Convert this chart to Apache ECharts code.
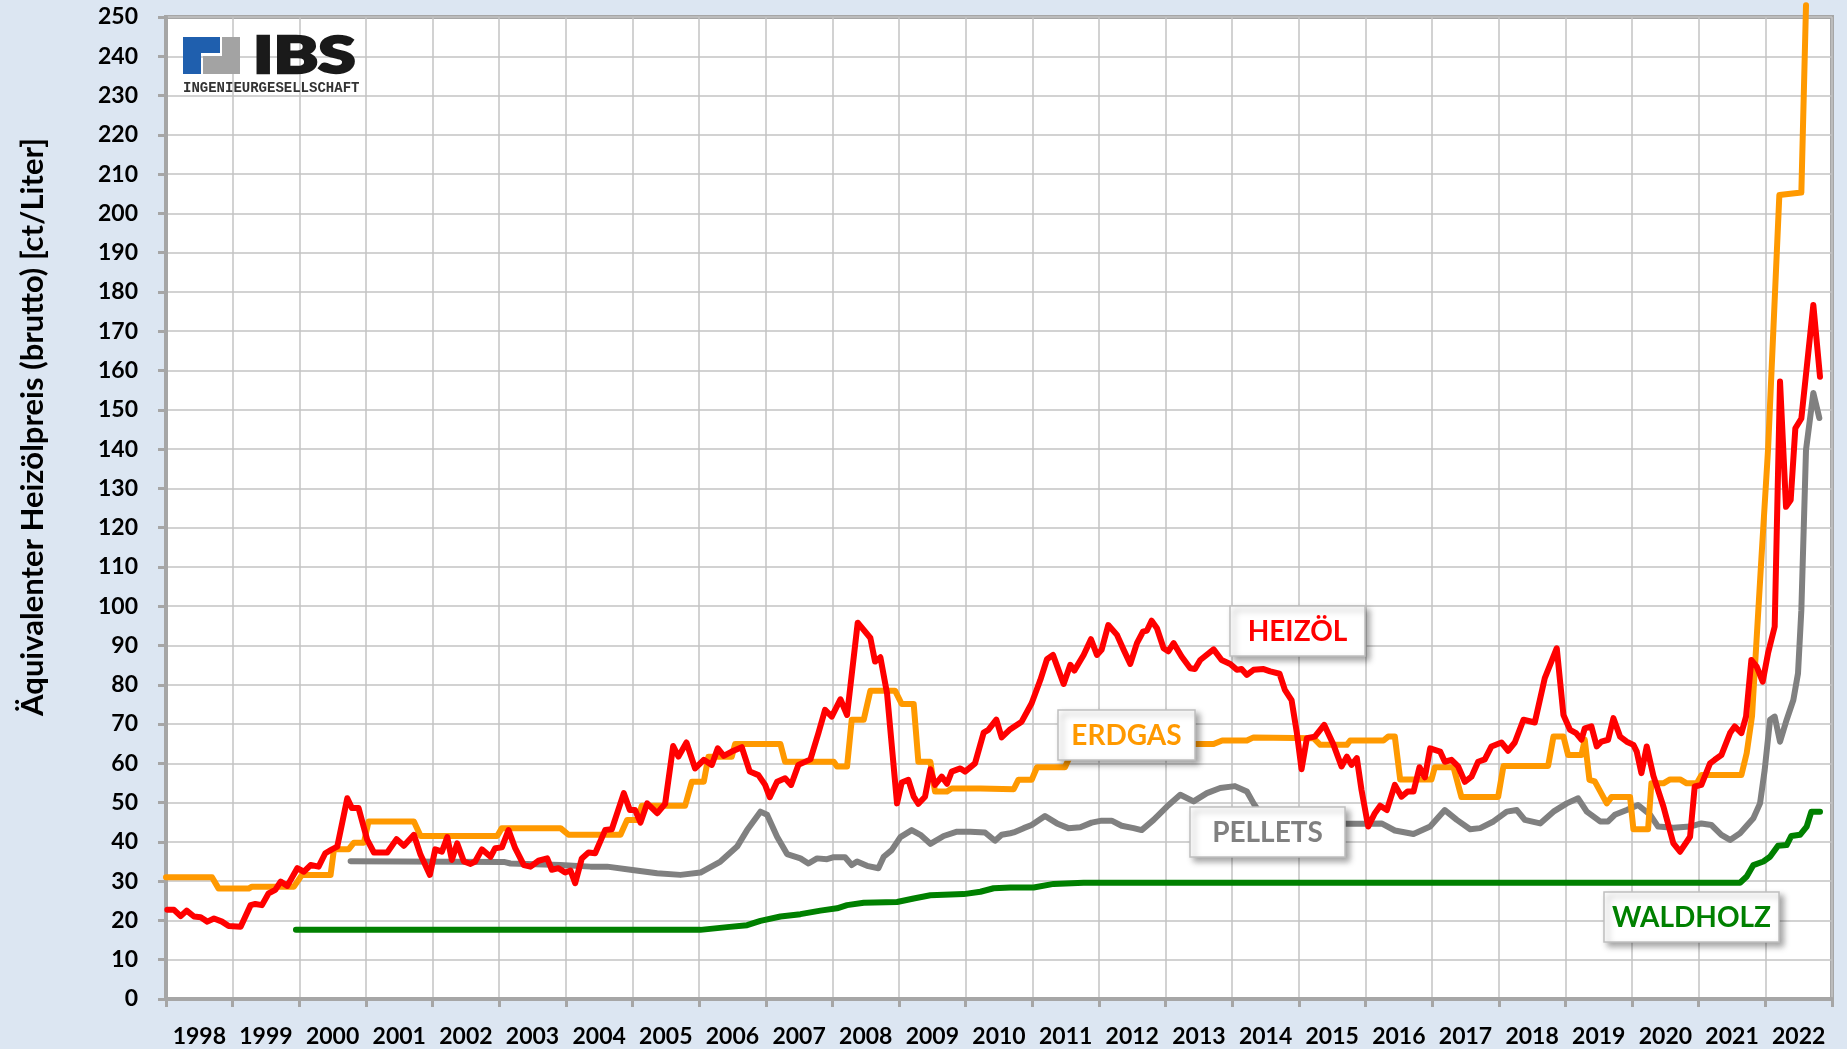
<!DOCTYPE html>
<html><head><meta charset="utf-8">
<script src="https://cdn.jsdelivr.net/npm/echarts/dist/echarts.min.js"></script>
<style>html,body{margin:0;padding:0;background:#dce6f2;}#c{width:1847px;height:1049px;}</style>
</head><body><div id="c"></div>
<script>
// ---- tick labels ----
const yearLabels = ['1998','1999','2000','2001','2002','2003','2004','2005','2006','2007','2008','2009','2010','2011','2012','2013','2014','2015','2016','2017','2018','2019','2020','2021','2022'];
const yAxisTitle = 'Äquivalenter Heizölpreis (brutto) [ct/Liter]';
const seriesNames = ['HEIZÖL','ERDGAS','PELLETS','WALDHOLZ'];

// ---- series values: [year, ct/Liter] ----
const heizoel = [[1998.02,22.7],[1998.12,22.7],[1998.22,21.1],[1998.31,22.5],[1998.42,21.0],[1998.52,20.8],[1998.62,19.7],[1998.72,20.5],[1998.84,19.7],[1998.94,18.6],[1999.12,18.4],[1999.27,23.9],[1999.34,24.2],[1999.44,23.9],[1999.54,26.9],[1999.64,27.8],[1999.72,29.9],[1999.82,28.8],[1999.97,33.3],[2000.07,32.4],[2000.17,34.1],[2000.29,33.7],[2000.39,37.1],[2000.49,38.1],[2000.57,38.8],[2000.72,51.1],[2000.79,48.6],[2000.89,48.6],[2001.02,40.5],[2001.12,37.3],[2001.32,37.3],[2001.46,40.7],[2001.57,39.0],[2001.72,41.8],[2001.82,36.7],[2001.96,31.6],[2002.04,38.1],[2002.14,37.5],[2002.22,41.2],[2002.29,35.4],[2002.37,39.6],[2002.47,35.0],[2002.57,34.4],[2002.64,35.0],[2002.74,38.1],[2002.87,36.2],[2002.94,38.4],[2003.04,38.6],[2003.14,43.0],[2003.24,38.4],[2003.37,34.1],[2003.47,33.7],[2003.59,35.2],[2003.72,35.8],[2003.79,32.9],[2003.89,33.3],[2003.99,32.2],[2004.07,32.7],[2004.14,29.5],[2004.24,35.8],[2004.34,37.3],[2004.44,37.1],[2004.59,43.0],[2004.69,43.2],[2004.87,52.4],[2004.96,48.1],[2005.04,48.1],[2005.12,44.9],[2005.22,49.8],[2005.37,47.3],[2005.49,49.7],[2005.61,64.4],[2005.69,61.7],[2005.81,65.3],[2005.94,58.7],[2006.07,60.9],[2006.19,59.6],[2006.28,63.8],[2006.37,61.9],[2006.49,63.0],[2006.64,64.1],[2006.76,57.9],[2006.89,57.0],[2006.99,54.5],[2007.06,51.4],[2007.17,55.3],[2007.29,56.2],[2007.38,54.5],[2007.49,59.6],[2007.67,61.0],[2007.79,67.7],[2007.89,73.6],[2007.99,71.9],[2008.12,76.3],[2008.22,72.3],[2008.38,95.8],[2008.57,91.9],[2008.64,85.9],[2008.72,87.0],[2008.82,77.8],[2008.97,49.8],[2009.04,55.1],[2009.14,55.8],[2009.22,51.5],[2009.29,49.7],[2009.39,51.5],[2009.47,58.5],[2009.54,54.5],[2009.64,56.6],[2009.72,54.8],[2009.79,57.9],[2009.92,58.7],[2009.99,57.9],[2010.14,60.0],[2010.27,67.8],[2010.34,68.5],[2010.46,71.1],[2010.54,66.6],[2010.67,68.7],[2010.84,70.6],[2010.99,75.3],[2011.12,81.2],[2011.22,86.5],[2011.31,87.6],[2011.47,80.2],[2011.57,85.1],[2011.63,83.6],[2011.77,87.6],[2011.88,91.6],[2011.97,87.6],[2012.04,88.9],[2012.14,95.2],[2012.27,92.7],[2012.37,88.9],[2012.47,85.3],[2012.57,90.6],[2012.66,93.5],[2012.72,93.8],[2012.79,96.3],[2012.87,94.4],[2012.97,89.3],[2013.04,88.5],[2013.12,90.6],[2013.24,87.2],[2013.37,84.2],[2013.44,84.0],[2013.52,86.3],[2013.72,89.0],[2013.84,86.3],[2013.97,85.3],[2014.07,83.8],[2014.14,84.0],[2014.22,82.5],[2014.32,83.8],[2014.47,84.0],[2014.57,83.4],[2014.71,82.8],[2014.79,78.7],[2014.89,76.1],[2014.97,67.7],[2015.04,58.5],[2015.12,66.4],[2015.24,66.8],[2015.38,69.8],[2015.52,64.7],[2015.64,59.2],[2015.72,61.7],[2015.79,59.6],[2015.87,61.3],[2015.94,53.2],[2016.04,43.9],[2016.14,47.3],[2016.22,49.2],[2016.32,48.1],[2016.44,54.5],[2016.54,51.5],[2016.63,52.8],[2016.72,52.8],[2016.81,59.0],[2016.89,56.4],[2016.97,63.8],[2017.12,63.0],[2017.19,60.4],[2017.29,60.9],[2017.39,59.2],[2017.49,55.3],[2017.59,56.6],[2017.69,60.4],[2017.79,61.0],[2017.89,64.3],[2018.04,65.3],[2018.14,63.2],[2018.24,65.3],[2018.37,71.1],[2018.54,70.4],[2018.69,81.7],[2018.87,89.3],[2018.97,72.3],[2019.07,68.5],[2019.16,67.7],[2019.24,66.0],[2019.29,68.9],[2019.39,69.4],[2019.47,64.3],[2019.54,65.5],[2019.64,66.0],[2019.72,71.5],[2019.82,66.8],[2019.92,65.5],[2020.02,64.7],[2020.07,63.0],[2020.14,57.5],[2020.22,64.3],[2020.32,56.8],[2020.47,49.0],[2020.62,39.6],[2020.72,37.5],[2020.87,41.3],[2020.94,54.1],[2021.04,54.5],[2021.17,60.0],[2021.24,60.9],[2021.34,62.1],[2021.47,67.7],[2021.54,69.4],[2021.64,67.7],[2021.71,71.9],[2021.79,86.3],[2021.87,84.6],[2021.96,80.8],[2022.04,88.0],[2022.14,94.8],[2022.22,157.2],[2022.31,125.3],[2022.38,127.0],[2022.45,145.3],[2022.54,147.8],[2022.72,176.7],[2022.82,158.4]];

const erdgas = [[1998.0,31.0],[1998.69,31.0],[1998.79,28.1],[1999.24,28.1],[1999.29,28.6],[1999.92,28.6],[2000.04,31.6],[2000.47,31.6],[2000.52,38.1],[2000.74,38.1],[2000.82,39.8],[2000.97,39.8],[2001.04,45.2],[2001.72,45.2],[2001.82,41.5],[2002.97,41.5],[2003.04,43.5],[2003.92,43.5],[2004.04,41.8],[2004.82,41.8],[2004.92,45.6],[2005.07,45.6],[2005.14,49.2],[2005.79,49.2],[2005.89,55.3],[2006.07,55.3],[2006.14,61.7],[2006.49,61.7],[2006.54,64.9],[2007.22,64.9],[2007.29,60.4],[2008.02,60.4],[2008.07,59.2],[2008.22,59.2],[2008.29,71.1],[2008.47,71.1],[2008.57,78.5],[2008.94,78.5],[2009.04,75.1],[2009.22,75.1],[2009.29,60.4],[2009.47,60.4],[2009.54,52.8],[2009.72,52.8],[2009.79,53.6],[2010.22,53.6],[2010.72,53.4],[2010.79,55.8],[2010.99,55.8],[2011.07,59.0],[2011.49,59.0],[2011.57,62.0],[2012.4,62.0],[2012.47,64.9],[2013.72,64.9],[2013.85,65.8],[2014.22,65.8],[2014.32,66.6],[2015.22,66.4],[2015.32,64.7],[2015.72,64.7],[2015.77,65.8],[2016.27,65.8],[2016.34,66.8],[2016.44,66.8],[2016.52,55.9],[2016.99,55.9],[2017.04,59.0],[2017.32,59.0],[2017.44,51.4],[2017.99,51.4],[2018.07,59.3],[2018.74,59.3],[2018.82,66.8],[2018.97,66.8],[2019.04,62.1],[2019.24,62.1],[2019.29,66.0],[2019.36,55.8],[2019.44,55.4],[2019.62,49.8],[2019.69,51.4],[2019.97,51.4],[2020.02,43.2],[2020.24,43.2],[2020.29,54.9],[2020.47,54.9],[2020.57,55.9],[2020.72,55.9],[2020.82,54.9],[2020.97,54.9],[2021.04,57.0],[2021.64,57.0],[2021.72,62.6],[2021.8,72.0],[2021.94,112.0],[2022.04,139.8],[2022.21,204.7],[2022.54,205.3],[2022.61,253.0]];

const pellets = [[2000.77,35.1],[2003.07,34.9],[2003.17,34.5],[2003.92,34.1],[2004.37,33.7],[2004.62,33.7],[2004.97,32.9],[2005.37,32.0],[2005.72,31.6],[2006.02,32.2],[2006.32,35.0],[2006.57,38.8],[2006.72,43.0],[2006.92,47.7],[2007.02,46.9],[2007.17,41.3],[2007.32,36.9],[2007.52,35.8],[2007.64,34.5],[2007.77,35.8],[2007.92,35.6],[2008.02,36.1],[2008.19,36.1],[2008.29,34.1],[2008.37,35.0],[2008.52,33.9],[2008.69,33.3],[2008.77,36.2],[2008.89,37.9],[2009.02,41.2],[2009.19,43.0],[2009.32,41.8],[2009.47,39.5],[2009.67,41.5],[2009.87,42.6],[2010.07,42.6],[2010.29,42.4],[2010.44,40.3],[2010.54,41.8],[2010.67,42.2],[2010.72,42.4],[2010.87,43.5],[2010.99,44.3],[2011.19,46.6],[2011.37,44.7],[2011.54,43.5],[2011.72,43.7],[2011.89,44.9],[2012.04,45.4],[2012.19,45.4],[2012.34,44.1],[2012.52,43.5],[2012.64,43.0],[2012.82,45.6],[2013.02,49.0],[2013.22,52.0],[2013.42,50.3],[2013.62,52.4],[2013.82,53.7],[2014.04,54.2],[2014.22,52.8],[2014.32,49.8],[2014.45,46.5],[2014.8,45.3],[2015.3,45.0],[2015.72,44.6],[2016.02,44.6],[2016.24,44.7],[2016.44,42.9],[2016.72,42.0],[2016.97,43.9],[2017.19,48.1],[2017.37,45.6],[2017.57,43.2],[2017.72,43.5],[2017.92,45.2],[2018.12,47.7],[2018.27,48.1],[2018.39,45.6],[2018.62,44.7],[2018.82,47.7],[2019.02,49.8],[2019.19,51.1],[2019.32,47.7],[2019.52,45.2],[2019.64,45.2],[2019.74,46.9],[2019.92,48.1],[2020.09,49.4],[2020.27,46.9],[2020.39,43.9],[2020.62,43.6],[2020.87,43.9],[2021.04,44.7],[2021.19,44.3],[2021.34,41.8],[2021.47,40.5],[2021.62,42.2],[2021.82,46.0],[2021.92,49.8],[2021.99,58.3],[2022.07,71.1],[2022.14,71.9],[2022.22,65.5],[2022.32,71.1],[2022.42,76.1],[2022.49,82.9],[2022.54,99.0],[2022.61,139.8],[2022.72,154.3],[2022.81,147.9]];

const waldholz = [[1999.95,17.6],[2006.02,17.6],[2006.42,18.3],[2006.72,18.8],[2006.92,19.9],[2007.22,21.0],[2007.52,21.6],[2007.82,22.5],[2008.07,23.1],[2008.22,23.9],[2008.47,24.5],[2008.97,24.7],[2009.22,25.6],[2009.47,26.4],[2009.97,26.7],[2010.22,27.3],[2010.42,28.2],[2010.67,28.4],[2011.02,28.4],[2011.32,29.3],[2011.77,29.6],[2021.62,29.6],[2021.72,31.2],[2021.82,34.1],[2021.97,35.0],[2022.07,36.2],[2022.19,39.0],[2022.32,39.2],[2022.39,41.5],[2022.52,41.8],[2022.62,43.9],[2022.69,47.7],[2022.82,47.7]];

const FONT = 'Lato';
const chart = echarts.init(document.getElementById('c'), null, {renderer: 'canvas'});

function lineSeries(name, data, color, z) {
  return {
    name: name, type: 'line', data: data, xAxisIndex: 0, yAxisIndex: 0,
    showSymbol: false, symbol: 'none', clip: false, z: z, animation: false,
    lineStyle: {color: color, width: 6, cap: 'round', join: 'round'}
  };
}

function labelBox(text, x, y, w, h, color) {
  return {
    type: 'group', z: 100,
    children: [
      {type: 'rect', z: 100, shape: {x: x, y: y, width: w, height: h},
       style: {fill: '#ffffff', stroke: '#bfbfbf', lineWidth: 1.5,
               shadowBlur: 6, shadowOffsetX: 4, shadowOffsetY: 4, shadowColor: 'rgba(0,0,0,0.35)'}},
      {type: 'text', z: 101, x: x + w / 2, y: y + h / 2 + 1,
       style: {text: text, fill: color, font: 'bold 28px ' + FONT, textAlign: 'center', textVerticalAlign: 'middle'}}
    ]
  };
}

const option = {
  backgroundColor: '#dce6f2',
  animation: false,
  grid: {left: 166, right: 15, top: 17, bottom: 50, show: true, backgroundColor: '#ffffff',
         borderColor: '#a6a6a6', borderWidth: 4, containLabel: false, outerBoundsMode: 'none'},
  xAxis: [
    {type: 'value', min: 1998, max: 2023, interval: 1, position: 'bottom',
     axisLine: {show: true, onZero: false, lineStyle: {color: '#a6a6a6', width: 4}},
     axisTick: {show: true, length: 8, lineStyle: {color: '#a6a6a6', width: 3}},
     axisLabel: {show: false},
     splitLine: {show: true, lineStyle: {color: '#c3c3c3', width: 1.5}}},
    {type: 'category', data: yearLabels, boundaryGap: true, position: 'bottom',
     axisLine: {show: false}, axisTick: {show: false}, splitLine: {show: false},
     axisLabel: {show: true, interval: 0, margin: 26, color: '#000', fontFamily: FONT, fontWeight: 'bold', fontSize: 23}}
  ],
  yAxis: [
    {type: 'value', min: 0, max: 250, interval: 10,
     axisLine: {show: true, lineStyle: {color: '#a6a6a6', width: 4}},
     axisTick: {show: true, length: 8, lineStyle: {color: '#a6a6a6', width: 3}},
     axisLabel: {show: true, margin: 28, color: '#000', fontFamily: FONT, fontWeight: 'bold', fontSize: 23},
     splitLine: {show: true, lineStyle: {color: '#c3c3c3', width: 1.5}}}
  ],
  series: [
    lineSeries(seriesNames[3], waldholz, '#008000', 3),
    lineSeries(seriesNames[2], pellets, '#808080', 4),
    lineSeries(seriesNames[1], erdgas, '#ff9900', 5),
    lineSeries(seriesNames[0], heizoel, '#ff0000', 6)
  ],
  graphic: [
    // y axis title
    {type: 'text', z: 100, x: 33, y: 427, rotation: Math.PI / 2,
     style: {text: yAxisTitle, fill: '#000', font: 'bold 31px ' + FONT, textAlign: 'center', textVerticalAlign: 'middle'}},
    // IBS logo
    {type: 'polygon', z: 100, shape: {points: [[183,37],[220,37],[220,53],[201,53],[201,74],[183,74]]}, style: {fill: '#1f5fae'}},
    {type: 'polygon', z: 100, shape: {points: [[222,37],[240,37],[240,74],[203,74],[203,56],[222,56]]}, style: {fill: '#a3a3a3'}},
    {type: 'text', z: 100, x: 253, y: 56, scaleX: 1.3, scaleY: 1, originX: 0, originY: 0,
     style: {text: 'IBS', fill: '#1a1a1a', stroke: '#1a1a1a', lineWidth: 2.5, font: '900 52px ' + FONT, textAlign: 'left', textVerticalAlign: 'middle'}},
    {type: 'text', z: 100, x: 183, y: 88,
     style: {text: 'INGENIEURGESELLSCHAFT', fill: '#333333', font: 'bold 14px "Liberation Mono"', textAlign: 'left', textVerticalAlign: 'middle'}},
    labelBox(seriesNames[0], 1230, 606, 135, 50, '#ff0000'),
    labelBox(seriesNames[1], 1058, 710, 137, 50, '#ff9900'),
    labelBox(seriesNames[2], 1190, 807, 155, 50, '#808080'),
    labelBox(seriesNames[3], 1604, 892, 175, 50, '#008000')
  ]
};
chart.setOption(option);
</script>
</body></html>
